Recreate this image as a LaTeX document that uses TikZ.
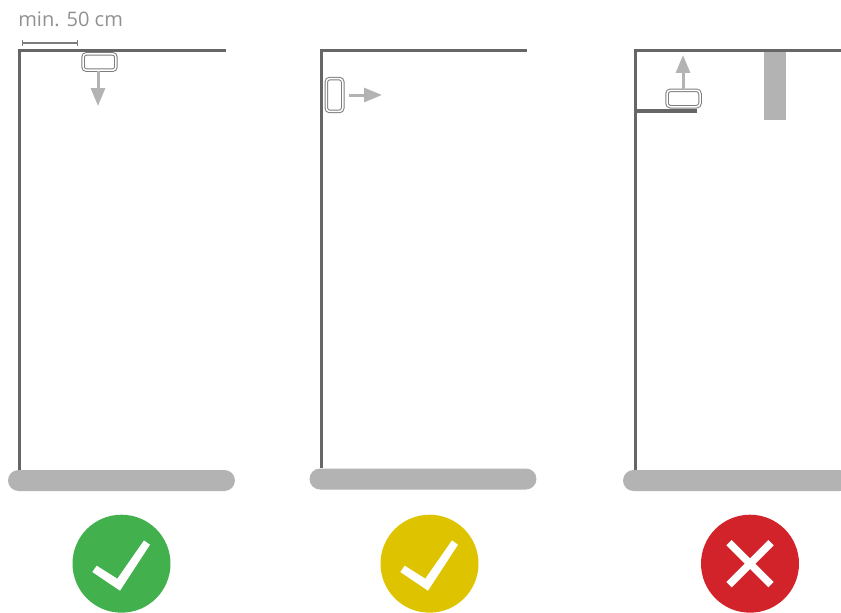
\documentclass[tikz,border=0pt]{standalone}
\usepackage{fontspec}
\setmainfont{Open Sans}
\usetikzlibrary{arrows.meta,positioning,calc}
\definecolor{GrisMuro}{RGB}{102,102,102}
\definecolor{GrisBorde}{RGB}{125,125,125}
\definecolor{GrisBarra}{RGB}{179,179,179}
\definecolor{GrisTexto}{RGB}{145,145,145}
\definecolor{VerdeBien}{RGB}{65,176,77}
\definecolor{AmarilloMedio}{RGB}{222,196,0}
\definecolor{RojoMal}{RGB}{210,35,42}
\tikzset{
  muro/.style={draw=GrisMuro, line width=0.06cm, line cap=butt, line join=miter},
  barra/.style={fill=GrisBarra, rounded corners=0.21cm, minimum width=4.54cm, minimum height=0.42cm, inner sep=0pt},
  sensor/.style={draw=GrisBorde, fill=white, line width=0.02cm, double=white, double distance=0.03cm, rounded corners=0.07cm, inner sep=0pt},
  flecha/.style={draw=GrisBarra, line width=0.06cm, -{Triangle[length=0.36cm,width=0.28cm]}},
  disco/.style={circle, minimum size=1.96cm, inner sep=0pt},
  cota/.style={draw=GrisBorde, line width=0.025cm, {Bar[width=0.12cm]}-{Bar[width=0.12cm]}},
  pics/tick/.style={code={
    \fill[white] (-29.2,8.3) -- (-24.8,2) -- (-4.2,15) -- (22.5,-23.3) -- (28.5,-19) -- (-1.5,27) -- cycle;}},
}
\begin{document}
\begin{tikzpicture}[x=0.02cm, y=-0.02cm]
  \clip (0,0) rectangle (841,612);
  % izquierda
  \node[barra] (barra1) at (121.5,480.5) {};
  \node[disco, fill=VerdeBien, below=0.46cm of barra1] (bien) {};
  \pic at (bien.center) {tick};
  \node[sensor, minimum width=0.66cm, minimum height=0.33cm] (sensor1) at (99.5,62) {};
  \node[text=GrisTexto, font=\fontsize{11.4pt}{14pt}\selectfont, anchor=base west, inner sep=0pt] (min) at (18,26.5) {min. 50 cm};
  \coordinate (esq1) at (19.5,50);
  \coordinate (fin1) at (226,50);
  \coordinate (cota1a) at (21.5,43);
  \coordinate (cota1b) at (78,43);
  \coordinate (punta1) at (98,106);
  \draw[muro] (barra1.north -| esq1) -- (esq1) -- (fin1);
  \draw[cota] (cota1a) -- (cota1b);
  \draw[flecha] (sensor1.south -| punta1) -- (punta1);

  % centro
  \node[barra] (barra2) at (423,479) {};
  \node[disco, fill=AmarilloMedio, below=0.49cm of barra2, xshift=0.13cm] (medio) {};
  \pic at (medio.center) {tick};
  \node[sensor, minimum width=0.33cm, minimum height=0.66cm] (sensor2) at (334.5,95) {};
  \coordinate (esq2) at (321,50);
  \coordinate (fin2) at (527,50);
  \coordinate (punta2) at (382,95);
  \draw[muro] (barra2.north -| esq2) -- (esq2) -- (fin2);
  \draw[flecha, shorten <=0.12cm] (sensor2.east) -- (punta2);

  % derecha
  \node[barra] (barra3) at (736.5,480.5) {};
  \node[disco, fill=RojoMal, below=0.46cm of barra3, xshift=0.27cm] (mal) {};
  \draw[white, line width=0.15cm] ($(mal.center)+(-21,-21)$) -- ($(mal.center)+(21,21)$);
  \draw[white, line width=0.15cm] ($(mal.center)+(-21,21)$) -- ($(mal.center)+(21,-21)$);
  \node[sensor, minimum width=0.66cm, minimum height=0.33cm] (sensor3) at (683.5,98.5) {};
  \node[fill=GrisBarra, minimum width=0.44cm, minimum height=1.38cm, inner sep=0pt] (columna) at (775,86) {};
  \coordinate (esq3) at (635,50);
  \coordinate (fin3) at (841,50);
  \coordinate (repisa3a) at (635,110.5);
  \coordinate (repisa3b) at (697,110.5);
  \coordinate (punta3) at (683,55);
  \draw[muro] (barra3.north -| esq3) -- (esq3) -- (fin3);
  \draw[muro, line width=0.08cm] (repisa3a) -- (repisa3b);
  \draw[flecha] (sensor3.north -| punta3) -- (punta3);
\end{tikzpicture}
\end{document}
